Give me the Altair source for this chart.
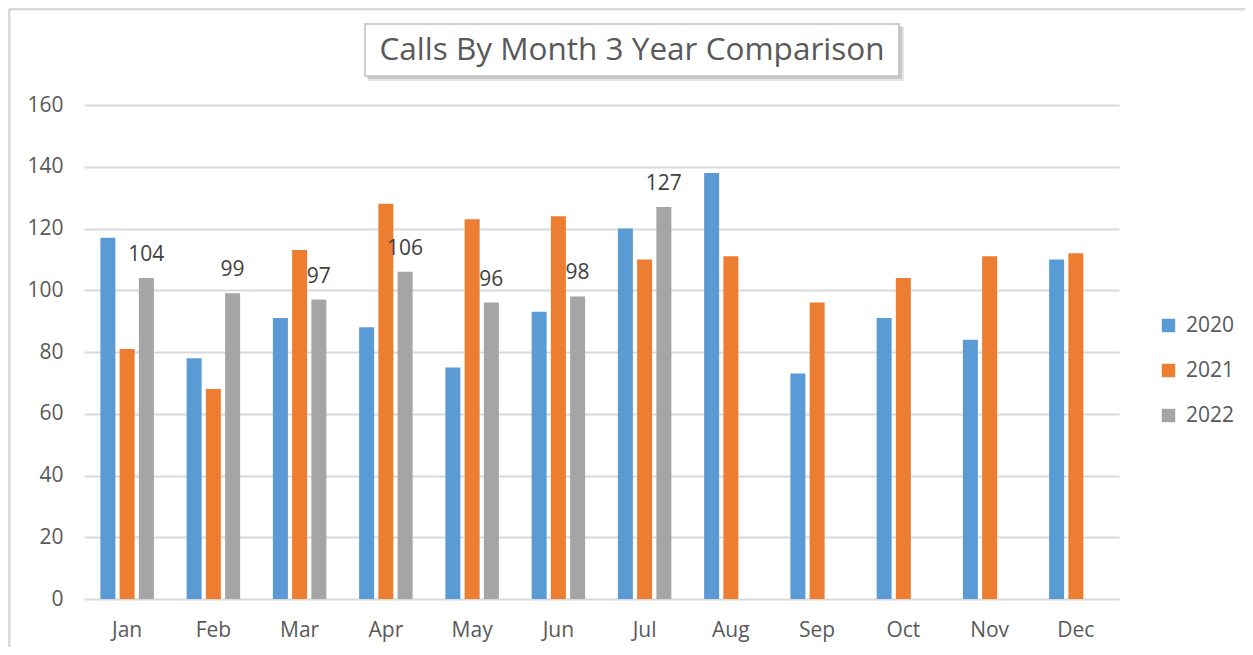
import altair as alt
import pandas as pd

months = ["Jan", "Feb", "Mar", "Apr", "May", "Jun", "Jul", "Aug", "Sep", "Oct", "Nov", "Dec"]
years = ["2020", "2021", "2022"]
calls_2020 = [117, 78, 91, 88, 75, 93, 120, 138, 73, 91, 84, 110]
calls_2021 = [81, 68, 113, 128, 123, 124, 110, 111, 96, 104, 111, 112]
calls_2022 = [104, 99, 97, 106, 96, 98, 127]
colors = ["#5B9BD5", "#ED7D31", "#A5A5A5"]
title_text = "Calls By Month 3 Year Comparison"
y_ticks = [0, 20, 40, 60, 80, 100, 120, 140, 160]

rows = []
for yr, vals in zip(years, [calls_2020, calls_2021, calls_2022]):
    for m, v in zip(months, vals):
        rows.append({"Month": m, "Year": yr, "Calls": v})
df = pd.DataFrame(rows)
df22 = df[df["Year"] == "2022"]

FONT = "Open Sans"
W, H = 1035, 494

x_enc = alt.X("Month:N", sort=months,
              scale=alt.Scale(paddingInner=0.38, paddingOuter=0.19),
              axis=alt.Axis(title=None, labelAngle=0, ticks=False, tickSize=0,
                            domain=False, grid=False, labelPadding=20,
                            labelFontSize=21, labelColor="#595959", labelFont=FONT))
xo_enc = alt.XOffset("Year:N", sort=years, scale=alt.Scale(paddingInner=0.22))
y_enc = alt.Y("Calls:Q", scale=alt.Scale(domain=[0, 160], nice=False),
              axis=alt.Axis(title=None, values=y_ticks, ticks=False, tickSize=0,
                            domain=False, grid=True, gridColor="#d9d9d9", gridWidth=2,
                            labelPadding=21, labelFontSize=21, labelColor="#595959",
                            labelFont=FONT))

bars = alt.Chart(df).mark_bar().encode(
    x=x_enc,
    xOffset=xo_enc,
    y=y_enc,
    color=alt.Color("Year:N", sort=years,
                    scale=alt.Scale(domain=years, range=colors),
                    legend=alt.Legend(title=None, orient="none", legendX=1074, legendY=210,
                                      symbolType="square", symbolSize=180,
                                      symbolStrokeWidth=0, labelFontSize=21,
                                      labelFont=FONT, labelColor="#595959",
                                      labelOffset=7, rowPadding=23, padding=0)),
)

labels = alt.Chart(df22).mark_text(
    align="center", baseline="alphabetic", dy=-17, fontSize=21, font=FONT, color="#404040"
).encode(
    x=alt.X("Month:N", sort=months),
    xOffset=alt.XOffset("Year:N", sort=years),
    y=alt.Y("Calls:Q"),
    text=alt.Text("Calls:Q"),
)

one = pd.DataFrame({"t": [title_text]})

frame_top = alt.Chart(one).mark_rule(color="#d9d9d9", strokeWidth=3).encode(
    x=alt.value(-75), x2=alt.value(1161), y=alt.value(-96))
frame_left = alt.Chart(one).mark_rule(color="#d9d9d9", strokeWidth=3).encode(
    x=alt.value(-75), y=alt.value(-96), y2=alt.value(545))

shadow1 = alt.Chart(one).mark_rect(fill="#000000", opacity=0.10).encode(
    x=alt.value(284), x2=alt.value(820), y=alt.value(-78), y2=alt.value(-24))
shadow2 = alt.Chart(one).mark_rect(fill="#000000", opacity=0.12).encode(
    x=alt.value(283), x2=alt.value(818), y=alt.value(-79), y2=alt.value(-26))
box = alt.Chart(one).mark_rect(fill="white", stroke="#bfbfbf", strokeWidth=1.5).encode(
    x=alt.value(281), x2=alt.value(815), y=alt.value(-81), y2=alt.value(-29))
title = alt.Chart(one).mark_text(
    align="center", baseline="middle", fontSize=31.5, font=FONT, color="#595959"
).encode(x=alt.value(548), y=alt.value(-54), text="t:N")

chart = alt.layer(frame_top, frame_left, bars, labels, shadow1, shadow2, box, title).properties(
    width=W, height=H,
    autosize=alt.AutoSizeParams(type="none"),
    padding={"left": 76, "top": 97, "right": 126, "bottom": 48},
    background="white",
).configure_view(stroke=None, strokeWidth=0)

chart.save("out.html", embed_options={"renderer": "svg", "actions": False})
